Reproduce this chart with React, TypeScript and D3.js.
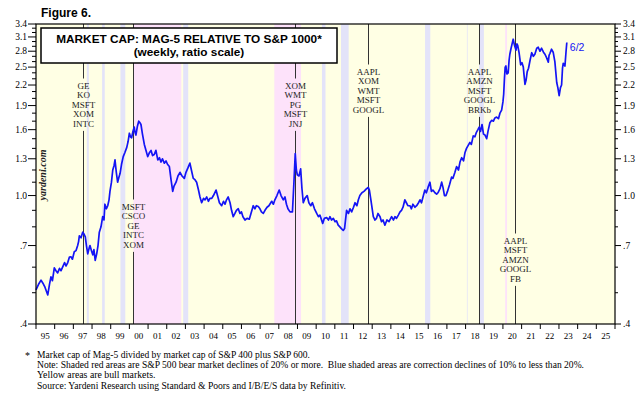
import React from 'react'
import * as d3 from 'd3'

// Mag-5 market cap / S&P 1000 market cap [year, ratio]
const ratio: [number, number][] = [
  [1995.00, 0.51], [1995.13, 0.53], [1995.27, 0.547], [1995.37, 0.535], [1995.48, 0.52], [1995.63, 0.492], [1995.72, 0.53], [1995.80, 0.56], [1995.88, 0.545], [1995.98, 0.597],
  [1996.07, 0.585], [1996.16, 0.576], [1996.26, 0.595], [1996.34, 0.585], [1996.43, 0.601], [1996.53, 0.62], [1996.61, 0.605], [1996.70, 0.62], [1996.79, 0.645], [1996.87, 0.646], [1996.95, 0.635],
  [1997.05, 0.67], [1997.14, 0.675], [1997.23, 0.70], [1997.28, 0.72], [1997.32, 0.75], [1997.41, 0.74], [1997.50, 0.77], [1997.57, 0.76], [1997.64, 0.745], [1997.70, 0.70], [1997.77, 0.66], [1997.84, 0.685], [1997.89, 0.70], [1997.97, 0.675],
  [1998.04, 0.655], [1998.10, 0.68], [1998.17, 0.63], [1998.25, 0.66], [1998.32, 0.70], [1998.39, 0.77], [1998.48, 0.80], [1998.57, 0.86], [1998.64, 0.84], [1998.69, 0.94], [1998.77, 0.91], [1998.84, 0.93], [1998.91, 0.97], [1998.96, 1.03],
  [1999.04, 1.10], [1999.11, 1.20], [1999.18, 1.24], [1999.23, 1.29], [1999.30, 1.18], [1999.37, 1.10], [1999.44, 1.14], [1999.50, 1.17], [1999.58, 1.25], [1999.67, 1.32], [1999.76, 1.36], [1999.86, 1.41], [1999.93, 1.47],
  [2000.00, 1.56], [2000.06, 1.52], [2000.12, 1.51], [2000.19, 1.58], [2000.26, 1.63], [2000.30, 1.57], [2000.35, 1.54], [2000.43, 1.64], [2000.50, 1.70], [2000.57, 1.68], [2000.62, 1.66], [2000.70, 1.55], [2000.80, 1.44], [2000.89, 1.38], [2000.98, 1.32],
  [2001.08, 1.36], [2001.16, 1.38], [2001.24, 1.33], [2001.33, 1.34], [2001.42, 1.38], [2001.52, 1.29], [2001.61, 1.31], [2001.69, 1.27], [2001.77, 1.30], [2001.87, 1.26], [2001.96, 1.28],
  [2002.04, 1.25], [2002.14, 1.23], [2002.23, 1.12], [2002.32, 1.03], [2002.39, 1.07], [2002.50, 1.10], [2002.60, 1.15], [2002.71, 1.18], [2002.82, 1.15], [2002.94, 1.13],
  [2003.03, 1.18], [2003.14, 1.22], [2003.24, 1.26], [2003.32, 1.20], [2003.42, 1.13], [2003.51, 1.12], [2003.60, 1.10], [2003.70, 1.04], [2003.78, 0.99], [2003.87, 0.95], [2003.97, 0.98],
  [2004.05, 0.97], [2004.14, 0.99], [2004.23, 0.96], [2004.31, 0.98], [2004.41, 0.98], [2004.50, 1.00], [2004.64, 1.04], [2004.74, 0.99], [2004.82, 0.95], [2004.94, 0.93],
  [2005.04, 0.96], [2005.12, 0.94], [2005.20, 0.97], [2005.29, 0.99], [2005.39, 0.95], [2005.47, 0.90], [2005.56, 0.86], [2005.65, 0.88], [2005.73, 0.90], [2005.83, 0.91], [2005.92, 0.88],
  [2006.00, 0.89], [2006.08, 0.86], [2006.19, 0.84], [2006.30, 0.85], [2006.42, 0.845], [2006.51, 0.88], [2006.63, 0.93], [2006.72, 0.91], [2006.80, 0.93], [2006.90, 0.925], [2006.99, 0.91],
  [2007.07, 0.89], [2007.17, 0.88], [2007.26, 0.90], [2007.37, 0.92], [2007.47, 0.93], [2007.62, 0.96], [2007.71, 0.94], [2007.79, 0.97], [2007.90, 1.00],
  [2008.02, 1.04], [2008.12, 1.00], [2008.24, 0.97], [2008.33, 0.99], [2008.41, 0.94], [2008.49, 0.91], [2008.60, 0.89], [2008.73, 0.89], [2008.81, 1.10], [2008.88, 1.35], [2008.94, 1.20], [2008.99, 1.16],
  [2009.08, 1.15], [2009.17, 1.21], [2009.24, 1.05], [2009.31, 0.95], [2009.40, 0.98], [2009.52, 1.00], [2009.61, 0.95], [2009.71, 0.93], [2009.80, 0.95], [2009.91, 0.91],
  [2010.03, 0.88], [2010.12, 0.86], [2010.20, 0.87], [2010.35, 0.82], [2010.44, 0.85], [2010.56, 0.855], [2010.66, 0.84], [2010.74, 0.86], [2010.82, 0.84], [2010.92, 0.85],
  [2011.01, 0.83], [2011.09, 0.835], [2011.18, 0.81], [2011.27, 0.80], [2011.35, 0.79], [2011.45, 0.78], [2011.52, 0.79], [2011.63, 0.90], [2011.73, 0.88], [2011.81, 0.91], [2011.90, 0.89],
  [2012.00, 0.92], [2012.08, 0.95], [2012.18, 0.93], [2012.26, 0.97], [2012.34, 1.00], [2012.45, 1.02], [2012.56, 1.03], [2012.70, 1.05], [2012.79, 1.06], [2012.85, 1.04], [2012.93, 0.97],
  [2013.06, 0.86], [2013.15, 0.84], [2013.23, 0.85], [2013.31, 0.88], [2013.42, 0.86], [2013.50, 0.83], [2013.58, 0.84], [2013.68, 0.81], [2013.79, 0.84], [2013.90, 0.83],
  [2014.04, 0.86], [2014.14, 0.84], [2014.22, 0.86], [2014.30, 0.85], [2014.40, 0.87], [2014.49, 0.89], [2014.57, 0.90], [2014.65, 0.92], [2014.75, 0.97], [2014.83, 0.95], [2014.91, 0.93],
  [2015.02, 0.93], [2015.10, 0.91], [2015.18, 0.94], [2015.29, 0.92], [2015.38, 0.93], [2015.48, 0.95], [2015.56, 0.97], [2015.64, 0.95], [2015.72, 0.99], [2015.82, 1.04], [2015.90, 1.02], [2015.99, 1.06],
  [2016.09, 1.10], [2016.17, 1.03], [2016.25, 1.04], [2016.36, 1.02], [2016.45, 1.01], [2016.52, 1.02], [2016.63, 1.05], [2016.72, 1.10], [2016.79, 1.06], [2016.87, 1.00], [2016.95, 1.00],
  [2017.03, 1.03], [2017.14, 1.08], [2017.25, 1.14], [2017.32, 1.13], [2017.43, 1.18], [2017.52, 1.23], [2017.62, 1.20], [2017.70, 1.27], [2017.79, 1.31], [2017.89, 1.28], [2017.97, 1.36],
  [2018.05, 1.40], [2018.14, 1.43], [2018.23, 1.46], [2018.31, 1.44], [2018.41, 1.53], [2018.50, 1.52], [2018.58, 1.57], [2018.66, 1.60], [2018.73, 1.63], [2018.80, 1.58], [2018.88, 1.66], [2018.96, 1.55],
  [2019.04, 1.54], [2019.13, 1.50], [2019.20, 1.58], [2019.30, 1.68], [2019.40, 1.71], [2019.49, 1.70], [2019.57, 1.74], [2019.66, 1.75], [2019.76, 1.73], [2019.84, 1.80], [2019.93, 1.84],
  [2020.00, 1.95], [2020.04, 2.06], [2020.08, 2.30], [2020.12, 2.50], [2020.16, 2.52], [2020.21, 2.38], [2020.28, 2.40], [2020.33, 2.63], [2020.37, 2.74], [2020.43, 2.85], [2020.49, 2.95], [2020.55, 3.05], [2020.62, 2.92], [2020.70, 2.82], [2020.75, 2.95], [2020.79, 2.92], [2020.86, 2.78], [2020.95, 2.54],
  [2021.02, 2.58], [2021.09, 2.50], [2021.13, 2.36], [2021.18, 2.21], [2021.24, 2.28], [2021.30, 2.42], [2021.37, 2.48], [2021.45, 2.62], [2021.54, 2.77], [2021.63, 2.70], [2021.71, 2.74], [2021.81, 2.86], [2021.89, 2.88], [2021.98, 2.80],
  [2022.07, 2.86], [2022.17, 2.78], [2022.25, 2.74], [2022.33, 2.68], [2022.43, 2.59], [2022.47, 2.72], [2022.52, 2.76], [2022.60, 2.84], [2022.69, 2.78], [2022.78, 2.60], [2022.88, 2.24], [2022.94, 2.16],
  [2023.01, 2.04], [2023.08, 2.16], [2023.14, 2.20], [2023.19, 2.48], [2023.23, 2.57], [2023.32, 2.52], [2023.38, 2.80], [2023.42, 2.98],
]

// S&P 500 bear markets (red shading) and corrections (blue shading), [start, end]
const bearMarkets: [number, number][] = [
  [2000.22, 2002.78], [2007.76, 2009.19], [2020.12, 2020.22],
]
const corrections: [number, number][] = [
  [1997.72, 1997.83], [1998.54, 1998.68], [1999.52, 1999.78], [2002.88, 2003.15],
  [2010.31, 2010.50], [2011.33, 2011.74], [2015.83, 2016.11], [2018.07, 2018.11], [2018.72, 2018.98],
]

const yTicks = [0.4, 0.7, 1.0, 1.3, 1.6, 1.9, 2.2, 2.5, 2.8, 3.1, 3.4]
const yearLabels = ['95', '96', '97', '98', '99', '00', '01', '02', '03', '04', '05', '06', '07', '08', '09',
  '10', '11', '12', '13', '14', '15', '16', '17', '18', '19', '20', '21', '22', '23', '24', '25']

// top-5 constituents at each marked date
const markerDates = [1997.53, 2000.18, 2008.87, 2012.77, 2018.72, 2020.64]
const markerNames = [
  ['GE', 'KO', 'MSFT', 'XOM', 'INTC'],
  ['MSFT', 'CSCO', 'GE', 'INTC', 'XOM'],
  ['XOM', 'WMT', 'PG', 'MSFT', 'JNJ'],
  ['AAPL', 'XOM', 'WMT', 'MSFT', 'GOOGL'],
  ['AAPL', 'AMZN', 'MSFT', 'GOOGL', 'BRKb'],
  ['AAPL', 'MSFT', 'AMZN', 'GOOGL', 'FB'],
]

const footnotes = [
  'Market cap of Mag-5 divided by market cap of S&P 400 plus S&P 600.',
  'Note: Shaded red areas are S&P 500 bear market declines of 20% or more.  Blue shaded areas are correction declines of 10% to less than 20%.',
  'Yellow areas are bull markets.',
  'Source: Yardeni Research using Standard & Poors and I/B/E/S data by Refinitiv.',
]

// layout
const width = 640
const height = 398
const plot = { left: 36, right: 615, top: 24, bottom: 324 }
const markerLabelTop = [88.5, 209.5, 88.5, 74.5, 74.5, 243.5]
const markerLineGap = 9.6
const footnoteWidths = [273, 547, 0, 309]

const serif = '"Liberation Serif", "Times New Roman", serif'
const sans = '"Liberation Sans", Arial, sans-serif'

const App: React.FC = () => {
  const x = d3.scaleLinear().domain([1995, 2026]).range([plot.left, plot.right])
  const y = d3.scaleLog().domain([0.4, 3.4]).range([plot.bottom, plot.top])

  const line = d3.line<[number, number]>()
    .x(d => x(d[0]))
    .y(d => y(d[1]))

  const minorTicks = d3.range(4, 35).filter(i => (i - 4) % 3 !== 0).map(i => i / 10)
  const yearTicks = d3.range(1995, 2027)
  const fmt = (v: number) => (v < 1 ? d3.format('.1f')(v).slice(1) : d3.format('.1f')(v))
  const last = ratio[ratio.length - 1]

  return (
    <svg width={width} height={height} style={{ position: 'absolute', left: 0, top: 0, background: '#fff' }}>
      <text x={41} y={17} fontFamily={sans} fontWeight="bold" fontSize={12}>Figure 6.</text>

      {/* bull market background */}
      <rect x={plot.left} y={plot.top} width={plot.right - plot.left} height={plot.bottom - plot.top} fill="#ffffe4" />
      {corrections.map(([a, b], i) => (
        <rect key={'c' + i} x={x(a)} y={plot.top} width={x(b) - x(a)} height={plot.bottom - plot.top} fill="#e3e3f9" />
      ))}
      {bearMarkets.map(([a, b], i) => (
        <rect key={'b' + i} x={x(a)} y={plot.top} width={x(b) - x(a)} height={plot.bottom - plot.top} fill="#fde2fa" />
      ))}

      {/* marker lines with stacked names */}
      {markerDates.map((d, i) => {
        const mx = Math.round(x(d)) + 0.5
        const top = markerLabelTop[i]
        const bottom = top + (markerNames[i].length - 1) * markerLineGap
        return (
          <g key={'m' + i}>
            <line x1={mx} x2={mx} y1={plot.top} y2={top - 10} stroke="#333" strokeWidth={1} />
            <line x1={mx} x2={mx} y1={bottom + 4} y2={plot.bottom} stroke="#333" strokeWidth={1} />
            {markerNames[i].map((n, j) => (
              <text key={n + j} x={mx} y={top + j * markerLineGap} textAnchor="middle"
                fontFamily={serif} fontSize={9} fill="#222">{n}</text>
            ))}
          </g>
        )
      })}

      <text transform={`translate(46,175) rotate(-90)`} textAnchor="middle" fontFamily={serif}
        fontStyle="italic" fontWeight="bold" fontSize={10} fill="#222">yardeni.com</text>

      <path d={line(ratio) || ''} fill="none" stroke="#1414f5" strokeWidth={1.7} strokeLinejoin="round" />
      <text x={x(last[0]) + 3} y={51} fontFamily={sans} fontSize={10.5} fill="#1414f5">6/2</text>

      {/* title box */}
      <rect x={41} y={28} width={296} height={35} fill="#fff" stroke="#000" strokeWidth={1.5} />
      <text x={189} y={43} textAnchor="middle" fontFamily={sans} fontWeight="bold" fontSize={11.8}>
        MARKET CAP: MAG-5 RELATIVE TO S&amp;P 1000*
      </text>
      <text x={189} y={56} textAnchor="middle" fontFamily={sans} fontWeight="bold" fontSize={11.8}>
        (weekly, ratio scale)
      </text>

      <rect x={plot.left} y={plot.top} width={plot.right - plot.left} height={plot.bottom - plot.top}
        fill="none" stroke="#000" strokeWidth={1.2} />

      {/* y axes */}
      {yTicks.map(v => (
        <g key={'y' + v}>
          <line x1={plot.left - 8} x2={plot.left} y1={y(v)} y2={y(v)} stroke="#000" />
          <line x1={plot.right} x2={plot.right + 6} y1={y(v)} y2={y(v)} stroke="#000" />
          <text x={plot.left - 9} y={y(v) + 3} textAnchor="end" fontFamily={serif} fontSize={9.5}>{fmt(v)}</text>
          <text x={plot.right + 8} y={y(v) + 3} textAnchor="start" fontFamily={serif} fontSize={9.5}>{fmt(v)}</text>
        </g>
      ))}
      {minorTicks.map(v => (
        <g key={'n' + v}>
          <line x1={plot.left - 4} x2={plot.left} y1={y(v)} y2={y(v)} stroke="#000" />
          <line x1={plot.right} x2={plot.right + 3} y1={y(v)} y2={y(v)} stroke="#000" />
        </g>
      ))}

      {/* x axis */}
      {yearTicks.map(t => (
        <line key={'t' + t} x1={x(t)} x2={x(t)} y1={plot.bottom} y2={plot.bottom + 5} stroke="#000" />
      ))}
      {yearLabels.map((l, i) => (
        <text key={'l' + l} x={x(1995 + i + 0.5)} y={339} textAnchor="middle" fontFamily={serif} fontSize={9}>{l}</text>
      ))}

      {/* footnotes */}
      <text x={25} y={359} fontFamily={serif} fontSize={10}>*</text>
      {footnotes.map((f, i) => (
        <text key={'f' + i} x={37} y={358 + i * 10.2} fontFamily={serif} fontSize={9.8}
          textLength={footnoteWidths[i] || undefined} lengthAdjust={footnoteWidths[i] ? 'spacingAndGlyphs' : undefined}
          style={{ whiteSpace: 'pre' }}>{f}</text>
      ))}
    </svg>
  )
}

export default App
